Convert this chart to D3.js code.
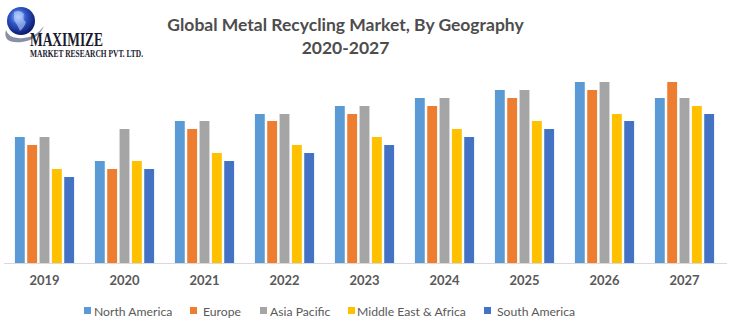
<!DOCTYPE html>
<html><head><meta charset="utf-8">
<script src="https://cdn.jsdelivr.net/npm/d3@7"></script>
<style>body{margin:0;background:#fff;}svg{display:block;}</style>
</head><body>
<svg id="chart" width="730" height="326"></svg>
<script>
const years = ["2019","2020","2021","2022","2023","2024","2025","2026","2027"];
const seriesNames = ["North America","Europe","Asia Pacific","Middle East & Africa","South America"];
const colors = ["#5B9BD5","#ED7D31","#A5A5A5","#FFC000","#4472C4"];
const northAmerica = [126,102,142,149,157,165,173,181,165];
const europe       = [118, 94,134,142,149,157,165,173,181];
const asiaPacific  = [126,134,142,149,157,165,173,181,165];
const middleEast   = [ 94,102,110,118,126,134,142,149,157];
const southAmerica = [ 86, 94,102,110,118,126,134,142,149];
const seriesValues = [northAmerica, europe, asiaPacific, middleEast, southAmerica];

const svg = d3.select("#chart");
const font = "Lato, 'Open Sans', sans-serif";

// Logo
const defs = svg.append("defs");
const rg = defs.append("radialGradient").attr("id","globe").attr("cx","40%").attr("cy","35%").attr("r","65%");
rg.append("stop").attr("offset","0%").attr("stop-color","#9fc3ff");
rg.append("stop").attr("offset","45%").attr("stop-color","#2f56c8");
rg.append("stop").attr("offset","100%").attr("stop-color","#0b1a6e");
const logo = svg.append("g");
logo.append("path").attr("d","M6,30 Q2,44 22,42 Q38,40 44,26 Q34,40 18,38 Q8,37 6,30 Z").attr("fill","#8a8fa8");
logo.append("circle").attr("cx",21).attr("cy",21).attr("r",14).attr("fill","url(#globe)");
logo.append("path").attr("d","M14,12 Q20,9 24,14 Q22,19 26,22 Q24,28 20,31 Q17,24 14,20 Z").attr("fill","#c9dcff").attr("opacity",0.55);
logo.append("text").attr("x",30).attr("y",46).attr("font-family","'Liberation Serif','DejaVu Serif',serif")
  .attr("font-weight","bold").attr("font-size",19).attr("fill","#1a1a2e").attr("textLength",73).attr("lengthAdjust","spacingAndGlyphs").text("MAXIMIZE");
logo.append("text").attr("x",30).attr("y",56.5).attr("font-family","'Liberation Serif','DejaVu Serif',serif")
  .attr("font-weight","bold").attr("font-size",9.5).attr("fill","#1a1a2e").attr("textLength",113).attr("lengthAdjust","spacingAndGlyphs").text("MARKET RESEARCH PVT. LTD.");

// Title
svg.append("text").attr("x",345.5).attr("y",31).attr("text-anchor","middle").attr("font-family",font)
  .attr("font-weight","bold").attr("font-size",17.5).attr("fill","#4d4d4d").text("Global Metal Recycling Market, By Geography");
svg.append("text").attr("x",345.5).attr("y",54).attr("text-anchor","middle").attr("font-family",font)
  .attr("font-weight","bold").attr("font-size",17.5).attr("fill","#4d4d4d").text("2020-2027");

// Scales
const baseline = 263;
const x0 = d3.scaleBand().domain(years).range([4.5,724.5]).paddingInner(0.26).paddingOuter(0.13);
const x1 = d3.scaleBand().domain(seriesNames).range([0,x0.bandwidth()]).paddingInner(0.2).paddingOuter(0);
const y = d3.scaleLinear().domain([0,200]).range([baseline, baseline-200]);

const groups = svg.append("g").selectAll("g").data(years).join("g")
  .attr("transform", d => `translate(${x0(d)},0)`);
groups.selectAll("rect").data((d,i) => seriesNames.map((s,j) => ({s, j, v: seriesValues[j][i]})))
  .join("rect")
  .attr("x", d => x1(d.s)).attr("width", x1.bandwidth())
  .attr("y", d => y(d.v)).attr("height", d => y(0) - y(d.v))
  .attr("fill", d => colors[d.j]);

// X axis
const xAxis = svg.append("g").attr("transform",`translate(0,${baseline})`)
  .call(d3.axisBottom(x0).tickSize(0).tickPadding(13));
xAxis.select(".domain").attr("stroke","#d9d9d9").attr("stroke-width",1.2).attr("d","M4,0.5H727");
xAxis.selectAll("text").attr("font-family",font).attr("font-weight","bold").attr("font-size",13).attr("fill","#595959");

// Legend
const legendX = [84,190,260,348,484];
const legendTextX = [94,203,270,357,497];
const lg = svg.append("g");
seriesNames.forEach((s,j) => {
  lg.append("rect").attr("x",legendX[j]).attr("y",307).attr("width",7).attr("height",7).attr("fill",colors[j]);
  lg.append("text").attr("x",legendTextX[j]).attr("y",315.5).attr("font-family",font).attr("font-size",12.2)
    .attr("fill","#595959").text(s);
});
</script>
</body></html>
